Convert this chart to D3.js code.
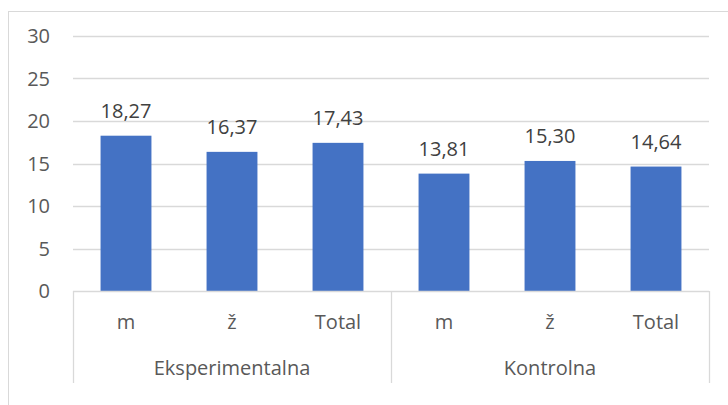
<!DOCTYPE html>
<html>
<head>
<meta charset="utf-8">
<script src="https://d3js.org/d3.v7.min.js"></script>
<style>
  body { margin: 0; background: #fff; }
  text { font-family: "Open Sans", sans-serif; }
</style>
</head>
<body>
<div id="chart"></div>
<script>
const grupe = ['Eksperimentalna', 'Kontrolna']
const spol = ['m', 'ž', 'Total']
const eksperimentalna = [18.27, 16.37, 17.43]
const kontrolna = [13.81, 15.30, 14.64]
const yTicks = [0, 5, 10, 15, 20, 25, 30]

const dados = []
grupe.forEach((g, i) => {
  const vals = i === 0 ? eksperimentalna : kontrolna
  spol.forEach((s, j) => dados.push({ grupa: g, spol: s, key: g + '|' + s, v: vals[j] }))
})

const largura = 728, altura = 405
const margem = { esquerda: 73, direita: 19, topo: 36, base: 114 }
const w = largura - margem.esquerda - margem.direita
const h = altura - margem.topo - margem.base

const svg = d3.select('#chart').append('svg')
  .attr('width', largura).attr('height', altura)

// outer chart frame
svg.append('rect')
  .attr('x', 8.5).attr('y', 11.5)
  .attr('width', 760).attr('height', 420)
  .attr('fill', 'none').attr('stroke', '#d9d9d9')

const g = svg.append('g').attr('transform', `translate(${margem.esquerda},${margem.topo})`)

const x = d3.scaleBand().domain(dados.map(d => d.key)).range([0, w]).paddingInner(0.52).paddingOuter(0.26)
const y = d3.scaleLinear().domain([0, 30]).range([h, 0])

// gridlines
g.selectAll('.grid').data(yTicks.slice(1)).join('line')
  .attr('x1', 0).attr('x2', w)
  .attr('y1', d => Math.round(y(d)) + 0.5).attr('y2', d => Math.round(y(d)) + 0.5)
  .attr('stroke', '#d9d9d9').attr('stroke-width', 1.3)

// y labels
g.selectAll('.ylab').data(yTicks).join('text')
  .attr('x', -23).attr('y', d => y(d) + 7)
  .attr('text-anchor', 'end')
  .attr('font-size', 20).attr('fill', '#595959')
  .text(d => d)

// bars
g.selectAll('.bar').data(dados).join('rect')
  .attr('x', d => x(d.key)).attr('width', x.bandwidth())
  .attr('y', d => y(d.v)).attr('height', d => h - y(d.v))
  .attr('fill', '#4472c4')

// data labels
g.selectAll('.lab').data(dados).join('text')
  .attr('x', d => x(d.key) + x.bandwidth() / 2)
  .attr('y', d => y(d.v) - 18)
  .attr('text-anchor', 'middle')
  .attr('font-size', 20).attr('fill', '#404040')
  .text(d => d.v.toFixed(2).replace('.', ','))

// axis line
g.append('line')
  .attr('x1', 0).attr('x2', w).attr('y1', h + 0.5).attr('y2', h + 0.5)
  .attr('stroke', '#d9d9d9').attr('stroke-width', 1.3)

// group separators
const grupaW = w / grupe.length
d3.range(grupe.length + 1).forEach(i => {
  g.append('line')
    .attr('x1', i * grupaW + 0.5).attr('x2', i * grupaW + 0.5)
    .attr('y1', h).attr('y2', h + 92)
    .attr('stroke', '#d9d9d9').attr('stroke-width', 1.3)
})

// category labels
g.selectAll('.xlab').data(dados).join('text')
  .attr('x', d => x(d.key) + x.bandwidth() / 2)
  .attr('y', h + 38)
  .attr('text-anchor', 'middle')
  .attr('font-size', 20).attr('fill', '#595959')
  .text(d => d.spol)

g.selectAll('.glab').data(grupe).join('text')
  .attr('x', (d, i) => (i + 0.5) * grupaW)
  .attr('y', h + 84)
  .attr('text-anchor', 'middle')
  .attr('font-size', 20).attr('fill', '#595959')
  .text(d => d)
</script>
</body>
</html>
